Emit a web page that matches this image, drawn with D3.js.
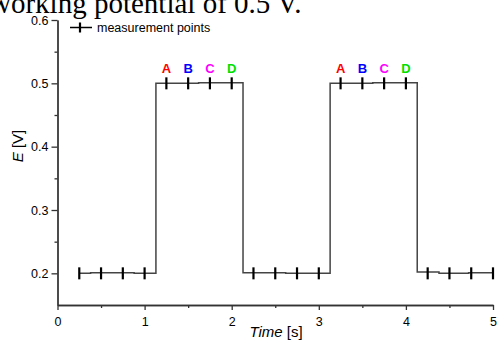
<!DOCTYPE html>
<html>
<head>
<meta charset="utf-8">
<script src="https://cdn.jsdelivr.net/npm/d3@7"></script>
<style>
  body { margin: 0; background: #fff; }
  svg { display: block; }
</style>
</head>
<body>
<div id="chart"></div>
<script>
var svgWidth = 498;
var svgHeight = 341;

// step trace of the potential
var traceTime = [0.25, 0.38, 0.38, 0.88, 0.88, 1.13, 1.13, 1.62, 1.62, 2.13, 2.13, 2.62, 2.62, 3.13, 3.13, 3.62, 3.62, 4.13, 4.13, 4.38, 4.38, 4.72, 4.72, 5.0];
var tracePotential = [0.2, 0.2, 0.201, 0.201, 0.2, 0.2, 0.5, 0.5, 0.501, 0.501, 0.201, 0.201, 0.2, 0.2, 0.5, 0.5, 0.501, 0.501, 0.202, 0.202, 0.2, 0.2, 0.201, 0.201];

// measurement points
var pointTime = [0.25, 0.5, 0.75, 1.0, 1.25, 1.5, 1.75, 2.0, 2.25, 2.5, 2.75, 3.0, 3.25, 3.5, 3.75, 4.0, 4.25, 4.5, 4.75, 5.0];
var pointPotential = [0.2, 0.2, 0.2, 0.2, 0.5, 0.5, 0.5, 0.5, 0.2, 0.2, 0.2, 0.2, 0.5, 0.5, 0.5, 0.5, 0.2, 0.2, 0.2, 0.2];

// letter labels over the high level
var labelText = ["A", "B", "C", "D", "A", "B", "C", "D"];
var labelTime = [1.25, 1.5, 1.75, 2.0, 3.25, 3.5, 3.75, 4.0];
var labelColors = ["#ff0000", "#0000ff", "#ff00ff", "#00e000", "#ff0000", "#0000ff", "#ff00ff", "#00e000"];

var xTicks = [0, 1, 2, 3, 4, 5];
var xMinor = [0.5, 1.5, 2.5, 3.5, 4.5];
var yTicks = [0.2, 0.3, 0.4, 0.5, 0.6];
var yMinor = [0.25, 0.35, 0.45, 0.55];

var svg = d3.select("#chart")
  .append("svg")
  .attr("width", svgWidth)
  .attr("height", svgHeight)
  .style("font-family", "'Liberation Sans', Arial, sans-serif");

// clipped caption from the page above
svg.append("text")
  .attr("x", -10)
  .attr("y", 13)
  .style("font-family", "'Liberation Serif', 'Times New Roman', serif")
  .style("font-size", "29px")
  .attr("fill", "#000")
  .text("working potential of 0.5 V.");

var x = d3.scaleLinear().domain([0, 5]).range([57.5, 493]);
var y = d3.scaleLinear().domain([0.15, 0.6]).range([305, 20]);

var axisColor = "#333";

// minor ticks
var xMinorAxis = svg.append("g")
  .attr("transform", "translate(0," + y(0.15) + ")")
  .call(d3.axisBottom(x).tickValues(xMinor).tickSize(3).tickFormat("").tickSizeOuter(0));

var yMinorAxis = svg.append("g")
  .attr("transform", "translate(" + x(0) + ",0)")
  .call(d3.axisLeft(y).tickValues(yMinor).tickSize(3).tickFormat("").tickSizeOuter(0));

// major axes
var xAxis = svg.append("g")
  .attr("transform", "translate(0," + y(0.15) + ")")
  .call(d3.axisBottom(x).tickValues(xTicks).tickSize(5).tickPadding(7).tickFormat(d3.format("d")).tickSizeOuter(0));

var yAxis = svg.append("g")
  .attr("transform", "translate(" + x(0) + ",0)")
  .call(d3.axisLeft(y).tickValues(yTicks).tickSize(6).tickPadding(3).tickFormat(d3.format(".1f")).tickSizeOuter(0));

svg.selectAll(".domain, .tick line")
  .attr("stroke", axisColor)
  .attr("stroke-width", 1.3);

svg.selectAll(".tick text")
  .attr("fill", "#000")
  .style("font-size", "12.5px");

// axis titles
var xTitle = svg.append("text")
  .attr("x", 276)
  .attr("y", 337)
  .attr("text-anchor", "middle")
  .style("font-size", "15px");
xTitle.append("tspan").style("font-style", "italic").text("Time");
xTitle.append("tspan").text(" [s]");

var yTitle = svg.append("text")
  .attr("transform", "translate(23,146) rotate(-90)")
  .attr("text-anchor", "middle")
  .style("font-size", "15px");
yTitle.append("tspan").style("font-style", "italic").text("E");
yTitle.append("tspan").text(" [V]");

// step trace
var traceData = traceTime.map(function(t, i) { return [t, tracePotential[i]]; });

var line = d3.line()
  .x(d => x(d[0]))
  .y(d => y(d[1]));

svg.append("path")
  .datum(traceData)
  .attr("d", line)
  .attr("fill", "none")
  .attr("stroke", "#444")
  .attr("stroke-width", 1.5);

// measurement point markers
svg.selectAll(".marker")
  .data(pointTime)
  .enter()
  .append("line")
  .attr("class", "marker")
  .attr("x1", d => x(d))
  .attr("x2", d => x(d))
  .attr("y1", (d, i) => y(pointPotential[i]) - 6)
  .attr("y2", (d, i) => y(pointPotential[i]) + 6)
  .attr("stroke", "#000")
  .attr("stroke-width", 2.2);

// letters
svg.selectAll(".letter")
  .data(labelText)
  .enter()
  .append("text")
  .attr("class", "letter")
  .attr("x", (d, i) => x(labelTime[i]))
  .attr("y", y(0.5) - 10)
  .attr("text-anchor", "middle")
  .attr("fill", (d, i) => labelColors[i])
  .style("font-size", "13px")
  .style("font-weight", "bold")
  .text(d => d);

// legend
var legend = svg.append("g");
legend.append("line")
  .attr("x1", 70).attr("x2", 92)
  .attr("y1", 27.5).attr("y2", 27.5)
  .attr("stroke", "#000")
  .attr("stroke-width", 1.5);
legend.append("line")
  .attr("x1", 80).attr("x2", 80)
  .attr("y1", 22.5).attr("y2", 32.5)
  .attr("stroke", "#000")
  .attr("stroke-width", 2.2);
legend.append("text")
  .attr("x", 97)
  .attr("y", 31.5)
  .style("font-size", "12.5px")
  .text("measurement points");
</script>
</body>
</html>
